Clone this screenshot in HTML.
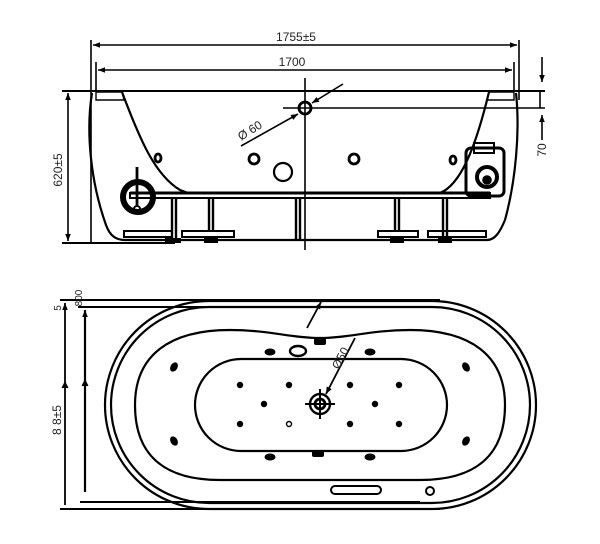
<!DOCTYPE html>
<html><head><meta charset="utf-8"><style>
html,body{margin:0;padding:0;background:#fff}
svg{display:block}
text{font-family:"Liberation Sans",sans-serif;fill:#222}
</style></head><body>
<svg width="600" height="544" viewBox="0 0 600 544" xmlns="http://www.w3.org/2000/svg">
<defs>
<marker id="a" viewBox="0 0 10 10" refX="10" refY="5" markerWidth="8" markerHeight="7" orient="auto-start-reverse" markerUnits="userSpaceOnUse"><path d="M0,1 L10,5 L0,9 Z" fill="#000"/></marker>
</defs>
<g stroke="#000" fill="none" stroke-width="1.6">
<line x1="91" y1="40" x2="91" y2="243"/>
<line x1="519" y1="40" x2="519" y2="100"/>
<line x1="93" y1="45" x2="517" y2="45" marker-start="url(#a)" marker-end="url(#a)"/>
<line x1="96" y1="62" x2="96" y2="92"/>
<line x1="514" y1="62" x2="514" y2="92"/>
<line x1="98" y1="70" x2="512" y2="70" marker-start="url(#a)" marker-end="url(#a)"/>
<line x1="62" y1="91" x2="545" y2="91" stroke-width="2"/>
<line x1="283" y1="108" x2="545" y2="108"/>
<line x1="540" y1="91" x2="540" y2="108"/>
<line x1="542" y1="57" x2="542" y2="82" marker-end="url(#a)"/>
<line x1="542" y1="140" x2="542" y2="115" marker-end="url(#a)"/>
<line x1="68" y1="93" x2="68" y2="241" marker-start="url(#a)" marker-end="url(#a)"/>
<line x1="62" y1="243" x2="175" y2="243" stroke-width="2"/>
<line x1="305" y1="78" x2="305" y2="250"/>
<circle cx="305" cy="108" r="6" stroke-width="2.8"/>
<line x1="343" y1="84" x2="312" y2="103" marker-end="url(#a)"/>
<line x1="241" y1="146" x2="298" y2="114" marker-end="url(#a)"/>
<path d="M92,93 C86,130 90,180 106,225 C110,236 116,240 125,240 L487,240 C495,240 500,232 505,220 C516,180 520,130 516,93" stroke-width="2.2"/>
<path d="M96,92 L122,92 L124,100 L96,100 Z" stroke-width="1.4"/>
<path d="M514,92 L489,92 L487,100 L514,100 Z" stroke-width="1.4"/>
<path d="M122,92 C140,140 155,175 180,190 L188,193 L440,193 C460,185 475,150 489,92" stroke-width="2.2"/>
<rect x="130" y="193" width="360" height="5" stroke-width="2"/>
<line x1="130" y1="193" x2="490" y2="193" stroke-width="3"/>
<g stroke-width="2.4">
<line x1="172" y1="198" x2="172" y2="238"/><line x1="176" y1="198" x2="176" y2="238"/>
<line x1="209" y1="198" x2="209" y2="232"/><line x1="213" y1="198" x2="213" y2="232"/>
<line x1="296" y1="198" x2="296" y2="240"/><line x1="300" y1="198" x2="300" y2="240"/>
<line x1="395" y1="198" x2="395" y2="232"/><line x1="399" y1="198" x2="399" y2="232"/>
<line x1="443" y1="198" x2="443" y2="238"/><line x1="447" y1="198" x2="447" y2="238"/>
</g>
<rect x="124" y="231" width="48" height="6" stroke-width="2"/>
<rect x="182" y="231" width="52" height="6" stroke-width="2"/>
<rect x="378" y="231" width="40" height="6" stroke-width="2"/>
<rect x="428" y="231" width="58" height="6" stroke-width="2"/>
<g fill="#000" stroke="none">
<rect x="165" y="238" width="16" height="5"/><rect x="204" y="238" width="14" height="5"/>
<rect x="390" y="238" width="14" height="5"/><rect x="438" y="238" width="14" height="5"/>
</g>
<circle cx="138" cy="197" r="15" stroke-width="6"/>
<line x1="137" y1="167" x2="137" y2="205" stroke-width="2.8"/>
<circle cx="137" cy="209" r="3" stroke-width="2"/>
<rect x="466" y="148" width="38" height="48" rx="5" stroke-width="3"/>
<rect x="474" y="143" width="20" height="10" stroke-width="2"/>
<circle cx="487" cy="177" r="10" stroke-width="4"/>
<circle cx="487" cy="180" r="4" fill="#000"/>
<ellipse cx="158" cy="158" rx="3" ry="4" stroke-width="2.8"/>
<circle cx="254" cy="159" r="5" stroke-width="2.8"/>
<circle cx="283" cy="172" r="9" stroke-width="2.2"/>
<circle cx="354" cy="159" r="5" stroke-width="2.8"/>
<ellipse cx="453" cy="160" rx="3" ry="4" stroke-width="2.8"/>

<line x1="60" y1="300" x2="440" y2="300" stroke-width="2"/>
<line x1="78" y1="307" x2="420" y2="307" stroke-width="2"/>
<line x1="60" y1="509" x2="440" y2="509" stroke-width="2"/>
<line x1="80" y1="502" x2="420" y2="502" stroke-width="2"/>
<line x1="65" y1="505" x2="65" y2="303" marker-end="url(#a)" stroke-width="1.8"/>
<line x1="85" y1="492" x2="85" y2="310" marker-end="url(#a)" stroke-width="2.2"/>
<path d="M62,388 L65,382 L68,388" fill="#000" stroke-width="1"/>
<path d="M82,386 L85,380 L88,386" fill="#000" stroke-width="1"/>
<rect x="105" y="301" width="431" height="208" rx="104" ry="104" stroke-width="2.2"/>
<rect x="111" y="307" width="419" height="196" rx="98" ry="98" stroke-width="2.2"/>
<path d="M135,405 C135,355 170,330 230,330 C270,330 290,338 320,338 C350,338 370,330 410,330 C470,330 505,355 505,405 C505,460 470,480 420,480 L220,480 C170,480 135,460 135,405 Z" stroke-width="2.2"/>
<rect x="195" y="359" width="252" height="92" rx="46" ry="46" stroke-width="2.2"/>
<line x1="307" y1="328" x2="321" y2="302" marker-end="url(#a)" stroke-width="1.8"/>
<line x1="355" y1="338" x2="326" y2="394" marker-end="url(#a)" stroke-width="1.8"/>
<circle cx="320" cy="404" r="10" stroke-width="2.4"/>
<circle cx="320" cy="404" r="5" stroke-width="2.8"/>
<line x1="305" y1="404" x2="335" y2="404" stroke-width="2"/>
<line x1="320" y1="389" x2="320" y2="419" stroke-width="2"/>
<ellipse cx="298" cy="351" rx="8" ry="5" stroke-width="2.4"/>
<rect x="331" y="486" width="50" height="8" rx="4" stroke-width="2"/>
<circle cx="430" cy="491" r="4" stroke-width="2"/>
<circle cx="289" cy="424" r="2.5" stroke-width="1.4"/>
</g>
<g fill="#000">
<circle cx="240" cy="385" r="3.2"/><circle cx="289" cy="385" r="3.2"/><circle cx="350" cy="385" r="3.2"/><circle cx="399" cy="385" r="3.2"/>
<circle cx="264" cy="404" r="3.2"/><circle cx="375" cy="404" r="3.2"/>
<circle cx="240" cy="424" r="3.2"/><circle cx="350" cy="424" r="3.2"/><circle cx="399" cy="424" r="3.2"/>
<ellipse cx="174" cy="367" rx="3.5" ry="5" transform="rotate(30 174 367)"/>
<ellipse cx="174" cy="441" rx="3.5" ry="5" transform="rotate(-30 174 441)"/>
<ellipse cx="466" cy="367" rx="3.5" ry="5" transform="rotate(-30 466 367)"/>
<ellipse cx="466" cy="441" rx="3.5" ry="5" transform="rotate(30 466 441)"/>
<ellipse cx="270" cy="352" rx="5.5" ry="3.5"/><ellipse cx="370" cy="352" rx="5.5" ry="3.5"/>
<ellipse cx="270" cy="457" rx="5.5" ry="3.5"/><ellipse cx="370" cy="457" rx="5.5" ry="3.5"/>
<rect x="314" y="338" width="12" height="7" rx="2"/>
<rect x="312" y="450" width="12" height="7" rx="2"/>
</g>
<g font-size="12">
<text x="296" y="41" text-anchor="middle">1755±5</text>
<text x="292" y="66" text-anchor="middle">1700</text>
<text transform="translate(62,170) rotate(-90)" text-anchor="middle">620±5</text>
<text transform="translate(546,150) rotate(-90)" text-anchor="middle">70</text>
<text transform="translate(252,134) rotate(-32)" text-anchor="middle">Ø 60</text>
<text transform="translate(344,360) rotate(-62)" text-anchor="middle">Ø50</text>
<text transform="translate(61,420) rotate(-90)" text-anchor="middle">8 8±5</text>
<text transform="translate(61,308) rotate(-90)" text-anchor="middle" font-size="10">5</text>
<text transform="translate(82,298) rotate(-90)" text-anchor="middle" font-size="10">800</text>
</g>
</svg>
</body></html>
